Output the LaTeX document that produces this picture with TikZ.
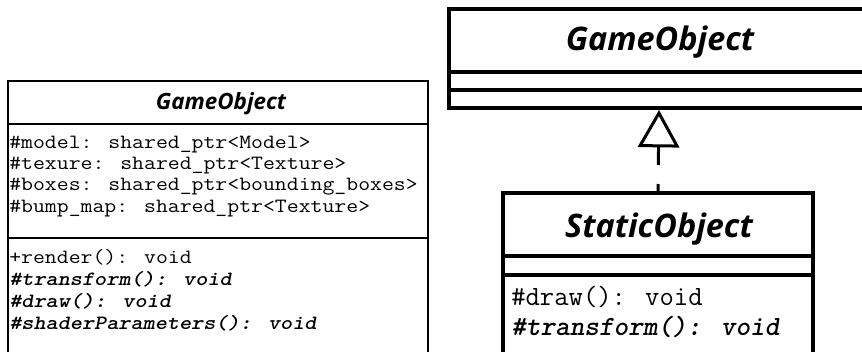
\documentclass[tikz,border=0pt]{standalone}
\usepackage{fontspec}
\newfontfamily\titlefont{Open Sans}
\usetikzlibrary{arrows.meta}
\newcommand\widetext[1]{\scalebox{1.14}[1]{#1}}
\begin{document}
\begin{tikzpicture}[x=0.75pt,y=-0.75pt,
  thinbox/.style={draw, line width=1.9pt, inner sep=0pt},
  thickbox/.style={draw, line width=3pt, inner sep=0pt},
  thinsep/.style={line width=1.9pt},
  thicksep/.style={line width=3pt},
  smalltitle/.style={font=\titlefont\fontsize{16.8}{19}\selectfont\bfseries\itshape},
  bigtitle/.style={font=\titlefont\fontsize{24.3}{27}\selectfont\bfseries\itshape},
  smallmono/.style={anchor=west, inner sep=0pt, text height=9.5pt, text depth=2.5pt,
    font=\ttfamily\fontsize{15.2}{17}\selectfont},
  smallmonoit/.style={smallmono, font=\ttfamily\fontsize{15.2}{17}\selectfont\bfseries\itshape},
  bigmono/.style={anchor=west, inner sep=0pt, font=\ttfamily\fontsize{20.9}{24}\selectfont},
  bigmonoit/.style={bigmono, font=\ttfamily\fontsize{20.9}{24}\selectfont\bfseries\itshape},
  genarrow/.style={line width=2.25pt, dash pattern=on 5.25pt off 14.25pt on 60pt,
    -{Triangle[open, length=28pt, width=31pt]}}
]
\useasboundingbox (0,0) rectangle (862,352);
\clip (0,0) rectangle (862,352);

% ---- left class box ----
\node[thinbox, minimum width=315pt, minimum height=210pt] (go1) at (218,221) {};
\draw[thinsep] (8,124) -- (428,124);
\draw[thinsep] (8,238) -- (428,238);
\node[smalltitle] (go1t) at (221,104) {GameObject};
\node[smallmono] (a1) at (9,144) {\widetext{\#model: shared\_ptr<Model>}};
\node[smallmono] (a2) at (9,165) {\widetext{\#texure: shared\_ptr<Texture>}};
\node[smallmono] (a3) at (9,186) {\widetext{\#boxes: shared\_ptr<bounding\_boxes>}};
\node[smallmono] (a4) at (9,208) {\widetext{\#bump\_map: shared\_ptr<Texture>}};
\node[smallmono] (m1) at (9,259) {\widetext{+render(): void}};
\node[smallmonoit] (m2) at (9,281) {\widetext{\#transform(): void}};
\node[smallmonoit] (m3) at (9,303) {\widetext{\#draw(): void}};
\node[smallmonoit] (m4) at (9,325) {\widetext{\#shaderParameters(): void}};

% ---- right: GameObject ----
\node[thickbox, minimum width=315pt, minimum height=74.25pt] (go2) at (659,58.5) {};
\draw[thicksep] (449,72) -- (869,72);
\draw[thicksep] (449,90) -- (869,90);
\node[bigtitle] (go2t) at (660,42) {GameObject};

% ---- right: StaticObject ----
\node[thickbox, minimum width=232.5pt, minimum height=129pt] (so) at (658,279) {};
\draw[thicksep] (503,256) -- (813,256);
\draw[thicksep] (503,274.5) -- (813,274.5);
\node[bigtitle] (sot) at (659,229) {StaticObject};
\node[bigmono] (s1) at (511,297) {\#draw(): void};
\node[bigmonoit] (s2) at (511,327) {\#transform(): void};

% ---- generalisation ----
\draw[genarrow] (so.north) -- (go2.south);
\end{tikzpicture}
\end{document}
